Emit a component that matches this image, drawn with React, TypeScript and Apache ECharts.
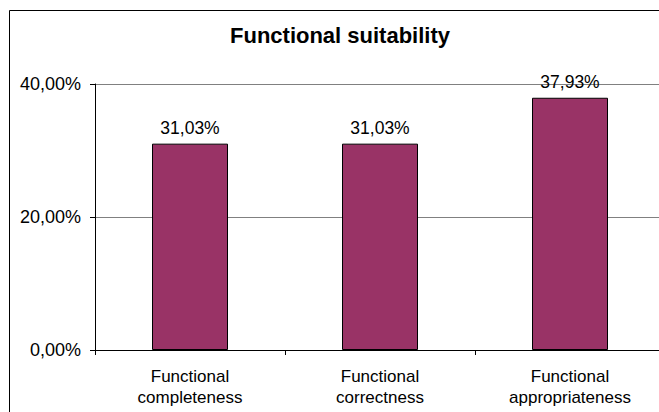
import React, { useEffect, useRef } from "react";
import * as echarts from "echarts";

const categories = ["Functional\ncompleteness", "Functional\ncorrectness", "Functional\nappropriateness"];
const values = [0.3103, 0.3103, 0.3793];
const titleText = "Functional suitability";

const fmt = (v: number) => (v * 100).toFixed(2).replace(".", ",") + "%";

export default function App() {
  const ref = useRef<HTMLDivElement>(null);
  useEffect(() => {
    document.body.style.margin = "0";
    const chart = echarts.init(ref.current!, undefined, { renderer: "svg" });
    const font = "Arial, 'Liberation Sans', sans-serif";
    chart.setOption({
      animation: false,
      backgroundColor: "#ffffff",
      textStyle: { fontFamily: font },
      title: {
        text: titleText,
        left: 335,
        top: 19,
        textAlign: "center",
        textStyle: { fontSize: 22, fontWeight: "bold", color: "#000", fontFamily: font },
      },
      graphic: [
        {
          type: "rect",
          shape: { x: 9.5, y: 10.5, width: 700, height: 500 },
          style: { fill: "none", stroke: "#000", lineWidth: 1 },
          silent: true,
          z: 100,
        },
      ],
      grid: { left: 95, top: 84, width: 570, height: 266, containLabel: false },
      xAxis: {
        type: "category",
        data: categories,
        axisLine: { show: true, lineStyle: { color: "#000", width: 1 } },
        axisTick: { show: true, alignWithLabel: false, length: 5, lineStyle: { color: "#000" } },
        axisLabel: { color: "#000", fontSize: 17, lineHeight: 21, margin: 16, fontFamily: font, interval: 0 },
      },
      yAxis: {
        type: "value",
        min: 0,
        max: 0.4,
        interval: 0.2,
        axisLine: { show: true, lineStyle: { color: "#000", width: 1 } },
        axisTick: { show: true, length: 5, lineStyle: { color: "#000" } },
        axisLabel: { color: "#000", fontSize: 18, margin: 14, formatter: (v: number) => fmt(v), fontFamily: font },
        splitLine: { show: true, lineStyle: { color: "#808080", width: 1 } },
      },
      series: [
        {
          type: "bar",
          data: values,
          barWidth: "40%",
          itemStyle: { color: "#993366", borderColor: "#000", borderWidth: 1 },
          label: {
            show: true,
            position: "top",
            distance: 7,
            color: "#000",
            fontSize: 17.5,
            fontFamily: font,
            formatter: (p: any) => fmt(p.value),
          },
        },
      ],
    });
    return () => chart.dispose();
  }, []);
  return (
    <div style={{ width: 659, height: 412, overflow: "hidden", position: "relative" }}>
      <div ref={ref} style={{ width: 680, height: 412 }} />
    </div>
  );
}
